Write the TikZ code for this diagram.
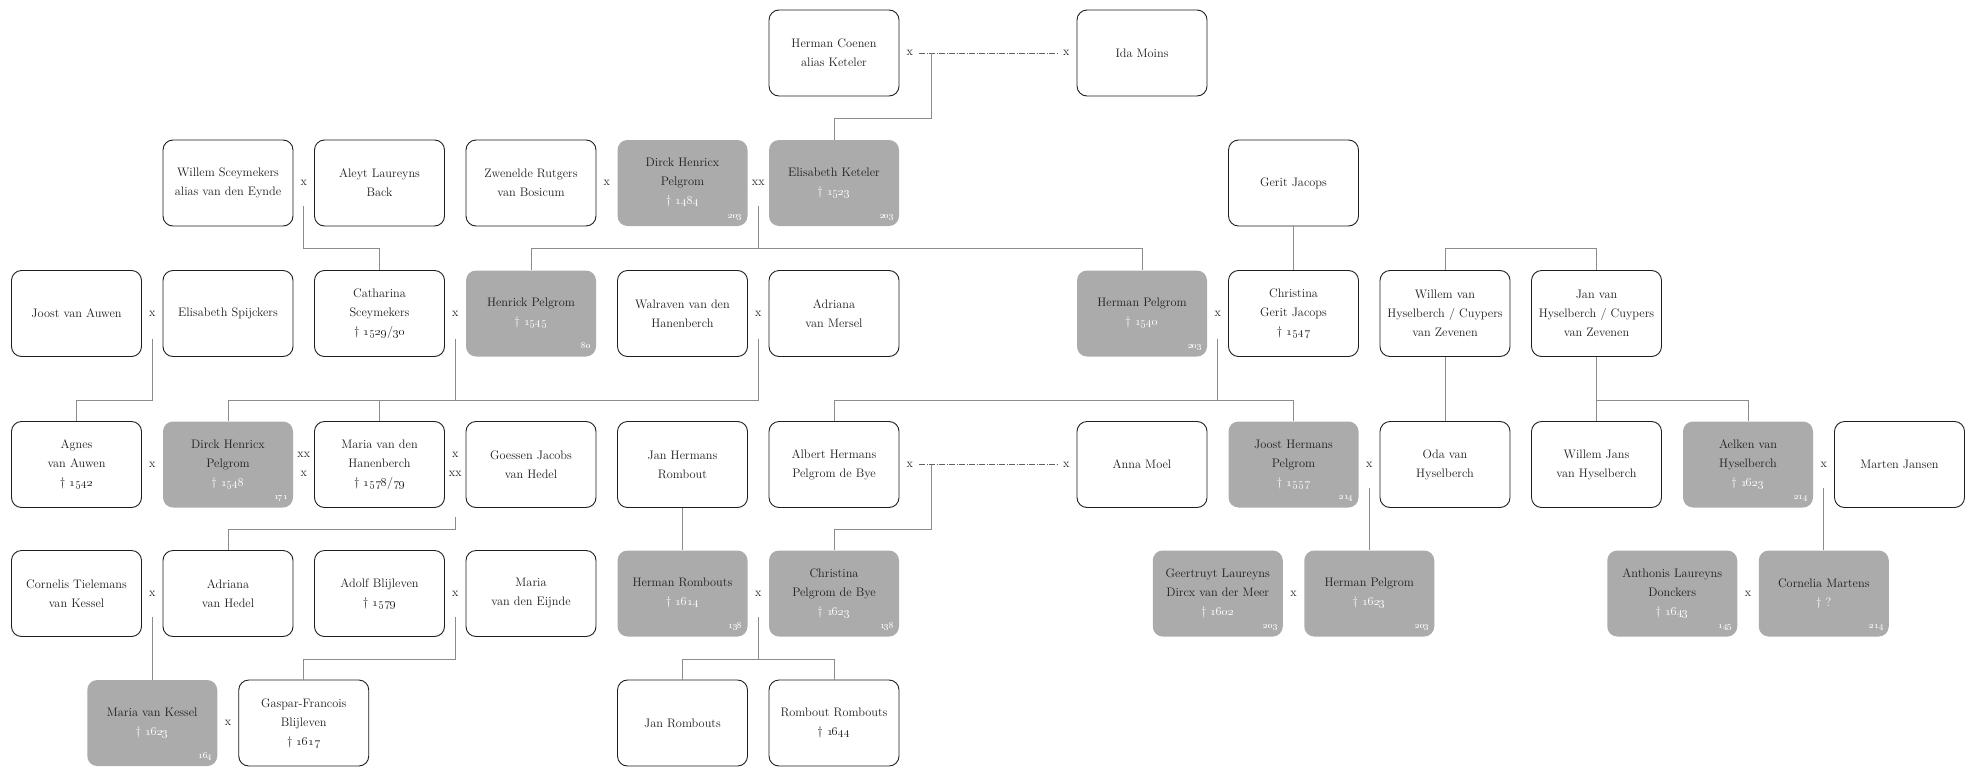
\documentclass[tikz,border=0pt]{standalone}
\usetikzlibrary{calc}
\definecolor{boxgray}{HTML}{ABABAB}
\definecolor{txt}{HTML}{1E1E1E}
\definecolor{linec}{HTML}{8C8C8C}
\newcommand{\wdate}[1]{\textcolor{white}{\textdagger\ \oldstylenums{#1}}}
\newcommand{\bdate}[1]{\textdagger\ \oldstylenums{#1}}
\begin{document}
\begin{tikzpicture}[x=1pt,y=-1pt,
  person/.style={rectangle, rounded corners=10pt, minimum width=130pt, minimum height=86pt,
    inner sep=1pt, text width=128pt, align=center, font=\fontsize{12.3}{19}\selectfont, text=txt},
  wbox/.style={person, draw=txt, line width=0.9pt, fill=white},
  gbox/.style={person, fill=boxgray},
  mx/.style={font=\fontsize{12.3}{18.5}\selectfont, text=txt, inner sep=0pt, align=center},
  pg/.style={font=\fontsize{9}{9}\selectfont, text=white, inner sep=0pt, anchor=base east},
  conn/.style={draw=linec, line width=0.9pt},
  dashconn/.style={draw=txt!70, line width=0.6pt, dash pattern=on 6pt off 1.5pt on 1pt off 1.5pt},
]
\useasboundingbox (0,0) rectangle (1975,779);
\fill[white] (0,0) rectangle (1975,779);

\coordinate (bus0) at (0,118);
\coordinate (bus1) at (0,248);
\coordinate (bus2) at (0,400);
\coordinate (bus3) at (0,529);
\coordinate (bus4) at (0,659);

% ---------- row 0
\node[wbox] (hc) at (834,53) {Herman Coenen\\alias Keteler};
\node[wbox] (ida) at (1142,53) {Ida Moins};
\node[mx] (m0a) at (909.75,53) {x};
\node[mx] (m0b) at (1066.25,53) {x};
\coordinate (m0) at (931,53);

% ---------- row 1
\node[wbox] (willemS) at (228,183) {Willem Sceymekers\\alias van den Eynde};
\node[mx] (m1) at (303.75,183) {x};
\node[wbox] (aleyt) at (379.5,183) {Aleyt Laureyns\\Back};
\node[wbox] (zwenelde) at (531,183) {Zwenelde Rutgers\\van Bosicum};
\node[mx] (m2) at (606.75,183) {x};
\node[gbox] (dirck1) at (682.5,183) {Dirck Henricx\\Pelgrom\\\wdate{1484}};
\node[mx] (m3) at (758.25,183) {xx};
\node[gbox] (elisK) at (834,183) {Elisabeth Keteler\\\wdate{1523}};
\node[wbox] (gerit) at (1293.5,183) {Gerit Jacops};

% ---------- row 2
\node[wbox] (joost) at (76.5,313.5) {Joost van Auwen};
\node[mx] (m4) at (152.25,313.5) {x};
\node[wbox] (elisS) at (228,313.5) {Elisabeth Spijckers};
\node[wbox] (catharina) at (379.5,313.5) {Catharina\\Sceymekers\\\bdate{1529}/\oldstylenums{30}};
\node[mx] (m5) at (455.25,313.5) {x};
\node[gbox] (henrick) at (531,313.5) {Henrick Pelgrom\\\wdate{1545}};
\node[wbox] (walraven) at (682.5,313.5) {Walraven van den\\Hanenberch};
\node[mx] (m6) at (758.25,313.5) {x};
\node[wbox] (adrianaM) at (834,313.5) {Adriana\\van Mersel};
\node[gbox] (hermanP) at (1142,313.5) {Herman Pelgrom\\\wdate{1540}};
\node[mx] (m7) at (1217.75,313.5) {x};
\node[wbox] (christinaG) at (1293.5,313.5) {Christina\\Gerit Jacops\\\bdate{1547}};
\node[wbox] (willemH) at (1445,313.5) {Willem van\\Hyselberch / Cuypers\\van Zevenen};
\node[wbox] (janH) at (1596.5,313.5) {Jan van\\Hyselberch / Cuypers\\van Zevenen};

% ---------- row 3
\node[wbox] (agnes) at (76.5,464.5) {Agnes\\van Auwen\\\bdate{1542}};
\node[mx] (m8) at (152.25,464.5) {x};
\node[gbox] (dirck2) at (228,464.5) {Dirck Henricx\\Pelgrom\\\wdate{1548}};
\node[mx] (m9) at (303.75,464.5) {xx\\x};
\node[wbox] (mariaH) at (379.5,464.5) {Maria van den\\Hanenberch\\\bdate{1578}/\oldstylenums{79}};
\node[mx] (m10) at (455.25,464.5) {x\\xx};
\node[wbox] (goessen) at (531,464.5) {Goessen Jacobs\\van Hedel};
\node[wbox] (janHR) at (682.5,464.5) {Jan Hermans\\Rombout};
\node[wbox] (albert) at (834,464.5) {Albert Hermans\\Pelgrom de Bye};
\node[mx] (m11a) at (909.75,464.5) {x};
\node[mx] (m11b) at (1066.25,464.5) {x};
\coordinate (m11) at (931,464.5);
\node[wbox] (anna) at (1142,464.5) {Anna Moel};
\node[gbox] (joostH) at (1293.5,464.5) {Joost Hermans\\Pelgrom\\\wdate{1557}};
\node[mx] (m12) at (1369.25,464.5) {x};
\node[wbox] (oda) at (1445,464.5) {Oda van\\Hyselberch};
\node[wbox] (willemJ) at (1596.5,464.5) {Willem Jans\\van Hyselberch};
\node[gbox] (aelken) at (1748,464.5) {Aelken van\\Hyselberch\\\wdate{1623}};
\node[mx] (m13) at (1823.75,464.5) {x};
\node[wbox] (marten) at (1899.5,464.5) {Marten Jansen};

% ---------- row 4
\node[wbox] (cornelis) at (76.5,593.5) {Cornelis Tielemans\\van Kessel};
\node[mx] (m14) at (152.25,593.5) {x};
\node[wbox] (adrianaH) at (228,593.5) {Adriana\\van Hedel};
\node[wbox] (adolf) at (379.5,593.5) {Adolf Blijleven\\\bdate{1579}};
\node[mx] (m15) at (455.25,593.5) {x};
\node[wbox] (mariaE) at (531,593.5) {Maria\\van den Eijnde};
\node[gbox] (hermanR) at (682.5,593.5) {Herman Rombouts\\\wdate{1614}};
\node[mx] (m16) at (758.25,593.5) {x};
\node[gbox] (christinaP) at (834,593.5) {Christina\\Pelgrom de Bye\\\wdate{1623}};
\node[gbox] (geertruyt) at (1217.75,593.5) {Geertruyt Laureyns\\Dircx van der Meer\\\wdate{1602}};
\node[mx] (m17) at (1293.5,593.5) {x};
\node[gbox] (hermanP2) at (1369.25,593.5) {Herman Pelgrom\\\wdate{1623}};
\node[gbox] (anthonis) at (1672.25,593.5) {Anthonis Laureyns\\Donckers\\\wdate{1643}};
\node[mx] (m18) at (1748,593.5) {x};
\node[gbox] (cornelia) at (1823.75,593.5) {Cornelia Martens\\\textcolor{white}{\textdagger\ ?}};

% ---------- row 5
\node[gbox] (mariaK) at (152.25,723) {Maria van Kessel\\\wdate{1623}};
\node[mx] (m19) at (228,723) {x};
\node[wbox] (gaspar) at (303.75,723) {Gaspar-Francois\\Blijleven\\\bdate{1617}};
\node[wbox] (janR) at (682.5,723) {Jan Rombouts};
\node[wbox] (rombout) at (834,723) {Rombout Rombouts\\\bdate{1644}};

% ---------- page numbers
\foreach \b/\p in {dirck1/203, elisK/203, henrick/80, hermanP/203, dirck2/171, joostH/214,
  aelken/214, hermanR/138, christinaP/138, geertruyt/203, hermanP2/203, anthonis/145,
  cornelia/214, mariaK/164}
  \node[pg] (pg-\b) at ([xshift=-5pt,yshift=8pt]\b.south east) {\oldstylenums{\p}};

% ---------- connectors
\draw[dashconn] ([xshift=6pt]m0a.east) -- ([xshift=-6pt]m0b.west);
\draw[conn] (m0) -- (m0 |- bus0) -| (elisK.north);

\draw[conn] ([yshift=-23pt]m1.center) -- (m1 |- bus1) -| (catharina.north);
\draw[conn] ([yshift=-23pt]m3.center) -- (m3 |- bus1);
\draw[conn] (henrick.north) -- (henrick |- bus1) -- (hermanP |- bus1) -- (hermanP.north);
\draw[conn] (gerit.south) -- (christinaG.north);
\draw[conn] (willemH.north) -- (willemH |- bus1) -- (janH |- bus1) -- (janH.north);

\draw[conn] ([yshift=-25pt]m4.center) -- (m4 |- bus2) -| (agnes.north);
\draw[conn] ([yshift=-25pt]m5.center) -- (m5 |- bus2) -| (dirck2.north);
\draw[conn] ([yshift=-25pt]m6.center) -- (m6 |- bus2) -| (mariaH.north);
\draw[conn] ([yshift=-25pt]m7.center) -- (m7 |- bus2);
\draw[conn] (albert.north) -- (albert |- bus2) -- (joostH |- bus2) -- (joostH.north);
\draw[conn] (willemH.south) -- (oda.north);
\draw[conn] (janH.south) -- (willemJ.north);
\draw[conn] (willemJ |- bus2) -| (aelken.north);

\draw[conn] ([yshift=-52pt]m10.center) -- (m10 |- bus3) -| (adrianaH.north);
\draw[conn] (janHR.south) -- (hermanR.north);
\draw[dashconn] ([xshift=6pt]m11a.east) -- ([xshift=-6pt]m11b.west);
\draw[conn] (m11) -- (m11 |- bus3) -| (christinaP.north);
\draw[conn] ([yshift=-23pt]m12.center) -- (hermanP2.north);
\draw[conn] ([yshift=-23pt]m13.center) -- (cornelia.north);

\draw[conn] ([yshift=-23pt]m14.center) -- (mariaK.north);
\draw[conn] ([yshift=-23pt]m15.center) -- (m15 |- bus4) -| (gaspar.north);
\draw[conn] ([yshift=-23pt]m16.center) -- (m16 |- bus4);
\draw[conn] (janR.north) -- (janR |- bus4) -- (rombout |- bus4) -- (rombout.north);
\end{tikzpicture}
\end{document}
